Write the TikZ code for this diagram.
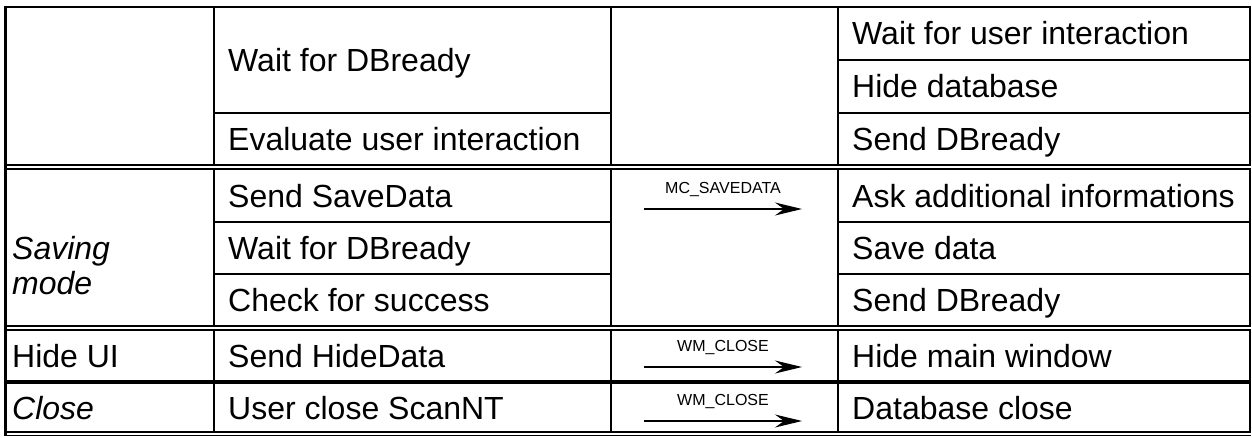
\documentclass[tikz,border=0pt]{standalone}
\usepackage{fontspec}
\setmainfont{Liberation Sans}
\usetikzlibrary{arrows.meta}

\begin{document}
\begin{tikzpicture}[x=1pt,y=-1pt,
  rule/.style={line width=2pt},
  dblrule/.style={line width=1.6pt},
  heavyrule/.style={line width=3.4pt},
  cell/.style={anchor=base west,inner sep=0pt,font=\fontsize{32}{36}\selectfont},
  phase/.style={cell,font=\fontsize{32}{36}\selectfont\itshape},
  msg/.style={anchor=base,inner sep=0pt,font=\fontsize{16}{19}\selectfont},
  sig/.style={-{Stealth[length=27pt,width=13pt,inset=9pt]},line width=1.2pt}]
\useasboundingbox (0,0) rectangle (1252,437);

% outer frame: heavy left edge, top edge
\draw[line width=3pt] (5.5,5.5) -- (5.5,436);
\draw[line width=2.6pt] (4,7) -- (1251,7);

% column rules, one segment per table block
\foreach \x in {214,611,838,1250} {
  \draw[rule] (\x,7) -- (\x,165);
  \draw[rule] (\x,169) -- (\x,326);
  \draw[rule] (\x,330) -- (\x,432);
}

% block separators
\foreach \y in {165,169,326,330,432,435.5}
  \draw[dblrule] (5,\y) -- (1251,\y);
\draw[heavyrule] (5,382) -- (1251,382);

% row rules inside blocks
\draw[rule] (214,113) -- (611,113);
\draw[rule] (838,60) -- (1250,60);
\draw[rule] (838,113) -- (1250,113);
\foreach \y in {222,274} {
  \draw[rule] (214,\y) -- (611,\y);
  \draw[rule] (838,\y) -- (1250,\y);
}

% block 1
\node[cell] (c1a) at (228,71.5) {Wait for DBready};
\node[cell] (c1b) at (228,150.5) {Evaluate user interaction};
\node[cell] (d1a) at (852,44.5) {Wait for user interaction};
\node[cell] (d1b) at (852,97.5) {Hide database};
\node[cell] (d1c) at (852,150.5) {Send DBready};

% block 2: saving mode
\node[phase,align=left,anchor=west] (p2) at (12,266) {Saving\\[-1pt]mode};
\node[cell] (c2a) at (228,207) {Send SaveData};
\node[cell] (c2b) at (228,259.5) {Wait for DBready};
\node[cell] (c2c) at (228,311.5) {Check for success};
\node[cell] (d2a) at (852,207) {Ask additional informations};
\node[cell] (d2b) at (852,259.5) {Save data};
\node[cell] (d2c) at (852,311.5) {Send DBready};
\coordinate (s2a) at (644,209);
\coordinate (s2b) at (802,209);
\draw[sig] (s2a) -- (s2b);
\node[msg] (m2) at (723,193) {MC\_SAVEDATA};

% block 3: hide UI
\node[cell] (p3) at (12,367.5) {Hide UI};
\node[cell] (c3) at (228,367.5) {Send HideData};
\node[cell] (d3) at (852,367.5) {Hide main window};
\coordinate (s3a) at (644,367);
\coordinate (s3b) at (802,367);
\draw[sig] (s3a) -- (s3b);
\node[msg] (m3) at (723,351) {WM\_CLOSE};

% block 4: close
\node[phase] (p4) at (12,419) {Close};
\node[cell] (c4) at (228,419) {User close ScanNT};
\node[cell] (d4) at (852,419) {Database close};
\coordinate (s4a) at (644,421);
\coordinate (s4b) at (802,421);
\draw[sig] (s4a) -- (s4b);
\node[msg] (m4) at (723,405) {WM\_CLOSE};
\end{tikzpicture}
\end{document}
